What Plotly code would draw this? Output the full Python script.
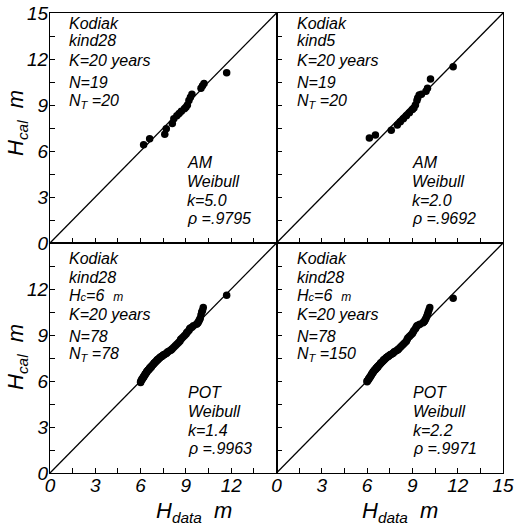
import plotly.graph_objects as go

# ---------------- data ----------------
# Panel 1: AM, kind28
am1_hdata = [6.2, 6.6, 7.6, 7.7, 8.1, 8.2, 8.4, 8.55, 8.7, 8.9, 9.0, 9.1, 9.2, 9.3, 9.4, 10.0, 10.1, 10.2, 11.7]
am1_hcal = [6.4, 6.8, 7.1, 7.45, 7.8, 8.1, 8.3, 8.45, 8.6, 8.75, 8.85, 9.0, 9.3, 9.5, 9.7, 10.1, 10.25, 10.4, 11.1]

# Panel 2: AM, kind5
am2_hdata = [6.15, 6.55, 7.6, 8.0, 8.2, 8.4, 8.6, 8.8, 9.0, 9.1, 9.2, 9.3, 9.35, 9.45, 9.6, 9.9, 10.0, 10.2, 11.7]
am2_hcal = [6.85, 7.05, 7.35, 7.7, 7.9, 8.1, 8.3, 8.5, 8.7, 8.8, 9.0, 9.3, 9.45, 9.65, 9.7, 9.9, 10.1, 10.7, 11.5]

# Panels 3 & 4: POT, kind28 (same data, different fits)
pot_hdata = [6.0, 6.0, 6.05, 6.1, 6.1, 6.15, 6.2, 6.2, 6.25, 6.3, 6.3, 6.35, 6.4, 6.4, 6.45, 6.5, 6.5, 6.55,
             6.6, 6.6, 6.65, 6.7, 6.7, 6.75, 6.8, 6.85, 6.9, 6.9, 6.95, 7.0, 7.05, 7.1, 7.1, 7.15, 7.2, 7.25,
             7.3, 7.35, 7.4, 7.45, 7.5, 7.55, 7.6, 7.7, 7.75, 7.8, 7.9, 8.0, 8.05, 8.1, 8.2, 8.3, 8.4, 8.5,
             8.6, 8.65, 8.7, 8.8, 8.9, 9.0, 9.05, 9.1, 9.2, 9.25, 9.3, 9.4, 9.5, 9.7, 9.75, 9.8, 9.85, 9.9,
             9.95, 10.0, 10.05, 10.1, 10.15, 11.7]
pot3_hcal = [5.9, 5.95, 6.05, 6.1, 6.15, 6.2, 6.25, 6.3, 6.35, 6.4, 6.45, 6.5, 6.55, 6.6, 6.65, 6.7, 6.72, 6.75,
             6.8, 6.85, 6.88, 6.9, 6.95, 7.0, 7.05, 7.1, 7.15, 7.18, 7.2, 7.25, 7.3, 7.35, 7.38, 7.4, 7.45, 7.5,
             7.55, 7.58, 7.6, 7.65, 7.7, 7.72, 7.75, 7.8, 7.85, 7.9, 7.95, 8.0, 8.05, 8.1, 8.2, 8.3, 8.4, 8.5,
             8.6, 8.7, 8.75, 8.85, 8.95, 9.05, 9.15, 9.2, 9.3, 9.4, 9.45, 9.5, 9.6, 9.7, 9.75, 9.8, 9.9, 10.0,
             10.1, 10.3, 10.5, 10.6, 10.8, 11.6]
pot4_hcal = [5.95, 6.0, 6.05, 6.1, 6.15, 6.2, 6.25, 6.3, 6.35, 6.4, 6.45, 6.5, 6.55, 6.6, 6.65, 6.7, 6.72, 6.75,
             6.8, 6.85, 6.88, 6.9, 6.95, 7.0, 7.05, 7.1, 7.15, 7.18, 7.2, 7.25, 7.3, 7.35, 7.38, 7.4, 7.45, 7.5,
             7.55, 7.58, 7.6, 7.65, 7.7, 7.72, 7.75, 7.8, 7.85, 7.9, 7.95, 8.0, 8.05, 8.1, 8.2, 8.3, 8.4, 8.5,
             8.6, 8.7, 8.8, 8.9, 9.0, 9.1, 9.2, 9.3, 9.4, 9.5, 9.6, 9.65, 9.7, 9.8, 9.85, 9.9, 10.0, 10.1,
             10.2, 10.35, 10.5, 10.65, 10.8, 11.4]

axis_range = [0, 15]
tick_positions = [0, 1.5, 3, 4.5, 6, 7.5, 9, 10.5, 12, 13.5, 15]
labels_full = ["0", "", "3", "", "6", "", "9", "", "12", "", "15"]
labels_no15 = ["0", "", "3", "", "6", "", "9", "", "12", "", ""]

info_top = [
    ["Kodiak", "kind28", "K=20 years", "N=19", "N<sub>T</sub> =20"],
    ["Kodiak", "kind5", "K=20 years", "N=19", "N<sub>T</sub> =20"],
]
info_bot = [
    ["Kodiak", "kind28", "H<span style='font-size:11px'>c</span>=6  <span style='font-size:12px'>m</span>",
     "K=20 years", "N=78", "N<sub>T</sub> =78"],
    ["Kodiak", "kind28", "H<span style='font-size:11px'>c</span>=6  <span style='font-size:12px'>m</span>",
     "K=20 years", "N=78", "N<sub>T</sub> =150"],
]
fit_info = [
    ["AM", "Weibull", "k=5.0", "ρ =.9795"],
    ["AM", "Weibull", "k=2.0", "ρ =.9692"],
    ["POT", "Weibull", "k=1.4", "ρ =.9963"],
    ["POT", "Weibull", "k=2.2", "ρ =.9971"],
]

# ---------------- figure ----------------
FONT = "Liberation Sans"
W, H = 514, 525
# plot area in screen pixels: x 50..503, y 13..473
L, T = 50, 13
R = W - 503
B = H - 473
PW, PH = W - L - R, H - T - B

def px(xs):
    return (xs - L) / PW

def py(ys):
    return (H - B - ys) / PH

def ital(s):
    return "<i>" + s + "</i>" if s else ""

fig = go.Figure()

panels = [
    (am1_hdata, am1_hcal, "x", "y"),
    (am2_hdata, am2_hcal, "x2", "y2"),
    (pot_hdata, pot3_hcal, "x3", "y3"),
    (pot_hdata, pot4_hcal, "x4", "y4"),
]
for xd, yd, xa, ya in panels:
    fig.add_trace(go.Scatter(x=axis_range, y=axis_range, mode="lines",
                             line=dict(color="black", width=1.3),
                             xaxis=xa, yaxis=ya, showlegend=False, hoverinfo="skip"))
    fig.add_trace(go.Scatter(x=xd, y=yd, mode="markers",
                             marker=dict(color="black", size=7.5),
                             xaxis=xa, yaxis=ya, showlegend=False))

def ax(domain, anchor, show, text, standoff):
    return dict(domain=domain, anchor=anchor, range=axis_range, automargin=False,
                showline=True, linecolor="black", linewidth=1.3, mirror=True,
                ticks="inside", ticklen=5, tickwidth=1.2, tickcolor="black",
                tickmode="array", tickvals=tick_positions, ticktext=[ital(t) for t in text],
                showticklabels=show, showgrid=False, zeroline=False,
                ticklabelstandoff=standoff,
                tickfont=dict(family=FONT, size=19, color="black", style="italic"))

XS, YS = -5, -3
fig.update_layout(
    width=W, height=H,
    margin=dict(l=L, r=R, t=T, b=B, autoexpand=False),
    paper_bgcolor="white", plot_bgcolor="white",
    xaxis=ax([0, 0.5], "y", False, labels_full, XS),
    yaxis=ax([0.5, 1], "x", True, labels_full, YS),
    xaxis2=ax([0.5, 1], "y2", False, labels_full, XS),
    yaxis2=ax([0.5, 1], "x2", False, labels_full, YS),
    xaxis3=ax([0, 0.5], "y3", True, labels_no15, XS),
    yaxis3=ax([0, 0.5], "x3", True, labels_no15, YS),
    xaxis4=ax([0.5, 1], "y4", True, labels_full, XS),
    yaxis4=ax([0, 0.5], "x4", False, labels_full, YS),
)

ann = []
tfont = dict(family=FONT, size=16, color="black", style="italic")

def add_lines(lines, xleft, ycenters):
    for t, yc in zip(lines, ycenters):
        ann.append(dict(text=ital(t), x=px(xleft), y=py(yc), xref="paper", yref="paper",
                        xanchor="left", yanchor="middle", showarrow=False, font=tfont))

top_y = [24, 41, 61, 82, 101]
add_lines(info_top[0], 67, top_y)
add_lines(info_top[1], 295, top_y)
bot_y = [258, 277, 295, 314, 336, 354]
add_lines(info_bot[0], 67, bot_y)
add_lines(info_bot[1], 295, bot_y)
fit_top_y = [162, 181, 200, 218]
fit_bot_y = [392, 411, 430, 448]
add_lines(fit_info[0], 185, fit_top_y)
add_lines(fit_info[1], 410, fit_top_y)
add_lines(fit_info[2], 186, fit_bot_y)
add_lines(fit_info[3], 411, fit_bot_y)

afont = dict(family=FONT, size=22, color="black", style="italic")
ytitle = "<i>H<sub>cal</sub>  m</i>"
xtitle = "<i>H<sub>data</sub>  m</i>"
for yc in (123, 357):
    ann.append(dict(text=ytitle, x=px(17), y=py(yc), xref="paper", yref="paper",
                    xanchor="center", yanchor="middle", textangle=-90,
                    showarrow=False, font=afont))
for xc in (194, 400):
    ann.append(dict(text=xtitle, x=px(xc), y=py(512), xref="paper", yref="paper",
                    xanchor="center", yanchor="middle", showarrow=False, font=afont))

fig.update_layout(annotations=ann)
fig.write_html("out.html", config={"displayModeBar": False},
               post_script="document.body.style.margin='0';")
